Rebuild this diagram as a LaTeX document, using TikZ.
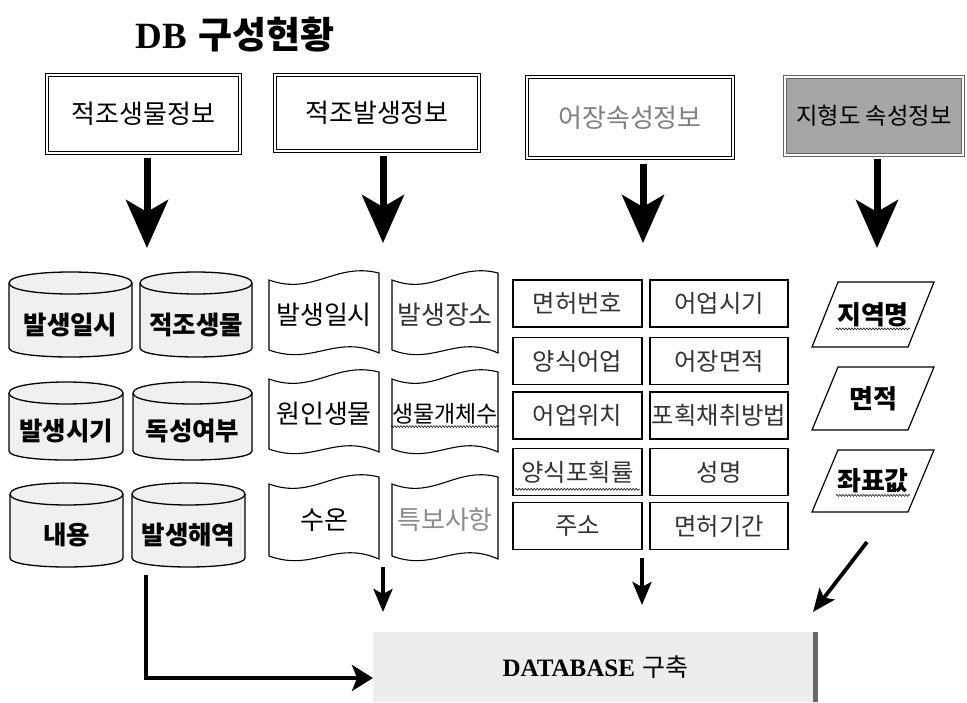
\documentclass[tikz,border=0pt]{standalone}
\usepackage{fontspec}
\newfontfamily\kr{Noto Sans CJK KR}
\newfontfamily\sr{Liberation Serif}
\usetikzlibrary{arrows.meta,decorations.pathmorphing}
\newcommand\fs[1]{\fontsize{#1}{#1}\selectfont}
\tikzset{
  topbox/.style={draw, double, double distance=2.6pt, line width=0.8pt, inner sep=0pt, font=\kr\fs{26}},
  bigarrow/.style={line width=7pt, -{Stealth[length=48pt,width=42pt,inset=12pt]}},
  midarrow/.style={line width=3.8pt, -{Stealth[length=23pt,width=19pt,inset=5pt]}},
  larrow/.style={line width=3.8pt, -{Stealth[length=21pt,width=26pt,inset=5pt]}},
  cylline/.style={line width=1.3pt, fill=black!6},
  cyltext/.style={inner sep=1pt, font=\kr\bfseries\fs{25.5}},
  waveline/.style={line width=1.1pt, fill=white},
  wavetext/.style={inner sep=1pt, font=\kr\fs{26}},
  rectbox/.style={draw, line width=1.5pt, minimum height=47pt, inner sep=0pt, font=\kr\fs{24.3}, text=black!80},
  paraline/.style={line width=1.2pt},
  paratext/.style={inner sep=1pt, font=\kr\bfseries\fs{26}},
  squig/.style={line width=0.5pt, decorate, decoration={snake, amplitude=1pt, segment length=3pt}},
}
\newcommand\cylbox[6]{%
  \pgfmathsetmacro\ym{#3+11}%
  \pgfmathsetmacro\yu{#3+11-14.67}%
  \pgfmathsetmacro\yl{#3+11+14.67}%
  \pgfmathsetmacro\yb{#5-9}%
  \pgfmathsetmacro\ybc{#5+3}%
  \filldraw[cylline] (#2,\ym) -- (#2,\yb) .. controls (#2,\ybc) and (#4,\ybc) .. (#4,\yb) -- (#4,\ym) .. controls (#4,\yu) and (#2,\yu) .. (#2,\ym) -- cycle;
  \draw[line width=1.3pt] (#2,\ym) .. controls (#2,\yl) and (#4,\yl) .. (#4,\ym);
  \node[cyltext] (#1) at ({(#2+#4)/2},{(#3+#5)/2+10}) {#6};
}
\newcommand\wavebox[7]{%
  \pgfmathsetmacro\wa{#2+0.4*(#4-#2)}%
  \pgfmathsetmacro\wb{#2+0.6*(#4-#2)}%
  \filldraw[waveline] (#2,#3+7) .. controls (\wa,#3+23) and (\wb,#3-11) .. (#4,#3) -- (#4,#5-4) .. controls (\wb,#5-23) and (\wa,#5+9) .. (#2,#5-7) -- cycle;
  \node[wavetext,text=#7] (#1) at ({(#2+#4)/2},{(#3+#5)/2}) {#6};
}
\newcommand\parabox[5]{%
  \draw[paraline] (#2,#4) -- ({#2+26},#3) -- ({#2+122},#3) -- ({#2+96},#4) -- cycle;
  \node[paratext] (#1) at ({#2+61},{(#3+#4)/2}) {#5};
}
\begin{document}
\begin{tikzpicture}[x=1pt,y=-1pt]
\useasboundingbox[fill=white] (0,0) rectangle (967,703);

% title
\node[inner sep=0pt] (title) at (235,35) {\fs{37}{\sr\bfseries DB} {\kr\bfseries 구성현황}};

% top boxes
\node[topbox, minimum width=193pt, minimum height=78pt] (t1) at (143.5,114) {적조생물정보};
\node[topbox, minimum width=204pt, minimum height=76pt, line width=1pt] (t2) at (377,113) {적조발생정보};
\node[topbox, minimum width=206pt, minimum height=81pt, text=black!50] (t3) at (630,117.5) {어장속성정보};
\node[topbox, minimum width=178pt, minimum height=78pt, draw=black!60, fill=black!35, font=\kr\fs{23.3}] (t4) at (874,116) {지형도 속성정보};

% arrow ends
\coordinate (in1) at (147,248);
\coordinate (in2) at (383,243);
\coordinate (in3) at (643,243);
\coordinate (in4) at (877,248);
\draw[bigarrow, shorten <=5pt] (t1.south -| in1) -- (in1);
\draw[bigarrow, shorten <=5pt] (t2.south -| in2) -- (in2);
\draw[bigarrow, shorten <=6pt] (t3.south -| in3) -- (in3);
\draw[bigarrow, shorten <=4pt] (t4.south -| in4) -- (in4);

% column 1: cylinders
\cylbox{c1}{9}{272}{132}{357}{발생일시}
\cylbox{c2}{140}{272}{252}{357}{적조생물}
\cylbox{c3}{9}{382}{123}{460}{발생시기}
\cylbox{c4}{133}{382}{252}{460}{독성여부}
\cylbox{c5}{10}{483}{123}{567}{내용}
\cylbox{c6}{132}{483}{245}{567}{발생해역}

% column 2: wave shapes
\wavebox{w1}{269}{273}{379}{357}{발생일시}{black}
\wavebox{w2}{392}{273}{498}{357}{발생장소}{black!80}
\wavebox{w3}{269}{372}{379}{456}{원인생물}{black}
\wavebox{w4}{392}{372}{498}{456}{\fs{23}생물개체수}{black}
\wavebox{w5}{269}{477}{379}{563}{수온}{black}
\wavebox{w6}{392}{477}{498}{563}{특보사항}{black!45}

% column 3: rectangles
\node[rectbox, minimum width=129pt] (r1) at (577.5,303.5) {면허번호};
\node[rectbox, minimum width=138pt] (r2) at (719,303.5) {어업시기};
\node[rectbox, minimum width=129pt] (r3) at (577.5,361) {양식어업};
\node[rectbox, minimum width=138pt] (r4) at (719,361) {어장면적};
\node[rectbox, minimum width=129pt] (r5) at (577.5,415.5) {어업위치};
\node[rectbox, minimum width=138pt] (r6) at (719,415.5) {포획채취방법};
\node[rectbox, minimum width=129pt] (r7) at (577.5,472) {양식포획률};
\node[rectbox, minimum width=138pt] (r8) at (719,472) {성명};
\node[rectbox, minimum width=129pt] (r9) at (577.5,526) {주소};
\node[rectbox, minimum width=138pt] (r10) at (719,526) {면허기간};

% column 4: parallelograms
\parabox{p1}{812}{282}{347}{지역명}
\parabox{p2}{812}{367}{430}{면적}
\parabox{p3}{812}{450}{512}{좌표값}

% spell-check squiggles
\draw[squig] ([yshift=-1pt]w4.south west) -- ([yshift=-1pt]w4.south east);
\draw[squig] ([xshift=3pt,yshift=7pt]r7.south west) -- ([xshift=-3pt,yshift=7pt]r7.south east);
\draw[squig] ([yshift=-1pt]p1.south west) -- ([yshift=-1pt]p1.south east);
\draw[squig] ([yshift=-1pt]p3.south west) -- ([yshift=-1pt]p3.south east);

% database box
\node[fill=black!7, minimum width=445pt, minimum height=70pt, inner sep=0pt] (db) at (595.5,667)
  {\fs{25}{\sr\bfseries DATABASE} {\kr 구축}};
\fill[black!60] ([xshift=-5pt]db.north east) rectangle (db.south east);

% bottom connectors
\coordinate (s2) at (383,567);
\coordinate (e2) at (383,612);
\coordinate (s3) at (642,558);
\coordinate (e3) at (642,605);
\coordinate (s4) at (867,542);
\coordinate (e4) at (813,612);
\coordinate (lstart) at (146,575);
\coordinate (dbin) at (373,678);
\draw[midarrow] (s2) -- (e2);
\draw[midarrow] (s3) -- (e3);
\draw[midarrow] (s4) -- (e4);
\draw[larrow] (lstart) |- (dbin);
\end{tikzpicture}
\end{document}
